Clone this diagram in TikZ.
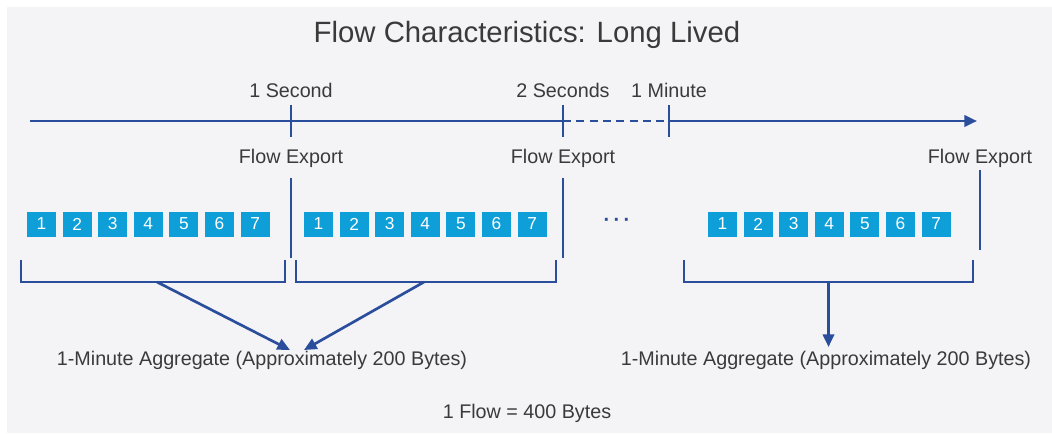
\documentclass[tikz,border=0pt]{standalone}
\usepackage{fontspec}
\setmainfont{Liberation Sans}
\usetikzlibrary{arrows.meta,positioning,calc}
\definecolor{lineblue}{HTML}{2B4E9C}
\definecolor{pktblue}{HTML}{0E9ED8}
\definecolor{panel}{HTML}{F4F4F6}
\definecolor{txt}{HTML}{3A3A3A}

\begin{document}
\begin{tikzpicture}[x=0.75pt,y=-0.75pt,
  font=\fontsize{14.8}{17}\selectfont, text=txt,
  ln/.style={draw=lineblue,line width=2pt},
  pkt/.style={fill=pktblue,text=white,inner sep=0pt,
    minimum width=21.75pt,minimum height=18.75pt,font=\fontsize{13}{15}\selectfont},
  lbl/.style={inner sep=0pt,anchor=center},
  a/.style={ln,-{Triangle[length=9.5pt,width=8.5pt]}}]
% panel
\useasboundingbox (0,0) rectangle (1052,433);
\fill[panel] (7,7) rectangle (1052,433);
\node[lbl,font=\fontsize{22}{26}\selectfont] (title) at (527,35) {Flow Characteristics: Long Lived};

% time line
\coordinate (t0) at (30,121);
\coordinate (t1) at (291,121);
\coordinate (t2) at (563,121);
\coordinate (t3) at (669,121);
\coordinate (tend) at (977,121);
\draw[ln] (t0)--(t2);
\draw[ln,line width=1.8pt,dash pattern=on 6pt off 4pt] (t2)--(t3);
\draw[a] (t3)--(tend);
\foreach \t in {t1,t2,t3}
  \draw[ln] ($(\t)+(0,-16)$)--($(\t)+(0,16)$);
\node[lbl] (sec1) at (291,90) {1 Second};
\node[lbl] (sec2) at (563,90) {2 Seconds};
\node[lbl] (min1) at (669,90) {1 Minute};

% exports
\node[lbl] (ex1) at (291,158) {Flow Export};
\node[lbl] (ex2) at (563,158) {Flow Export};
\node[lbl] (ex3) at (980,158) {Flow Export};
\draw[ln] (291,178)--(291,258);
\draw[ln] (563,178)--(563,258);
\draw[ln] (980,170)--(980,250);

% packets
\foreach \g/\x in {a/41.5,b/318.5,c/722.5}
  \foreach \i in {1,...,7}
    \node[pkt] (\g\i) at ({\x+(\i-1)*35.6},224) {\i};
\node[lbl,text=lineblue,font=\fontsize{15}{17}\selectfont\bfseries] (dots) at (617,222) {·\,·\,·};

% brackets
\draw[ln] (21,260)--(21,282)--(285,282)--(285,260);
\draw[ln] (296,260)--(296,282)--(556,282)--(556,260);
\draw[ln] (684,260)--(684,282)--(973,282)--(973,260);
\coordinate (br1) at (157,282);
\coordinate (br2) at (424,282);
\coordinate (br3) at (828.5,282);

% aggregates
\node[lbl] (agg1) at (262,360) {1-Minute Aggregate (Approximately 200 Bytes)};
\node[lbl] (agg2) at (826,360) {1-Minute Aggregate (Approximately 200 Bytes)};
\coordinate (in1) at (290,350);
\coordinate (in2) at (304,350);
\coordinate (in3) at (828.5,347);
\draw[a] (br1)--(in1);
\draw[a] (br2)--(in2);
\draw[a] (br3)--(in3);

\node[lbl] (total) at (527,413) {1 Flow = 400 Bytes};
\end{tikzpicture}
\end{document}
